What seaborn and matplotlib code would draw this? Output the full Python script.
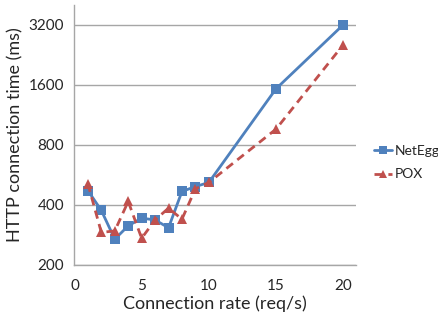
import numpy as np
import pandas as pd
import matplotlib
matplotlib.use("Agg")
import matplotlib.pyplot as plt
import seaborn as sns
from matplotlib.ticker import FixedLocator, FixedFormatter, NullLocator

rate = [1, 2, 3, 4, 5, 6, 7, 8, 9, 10, 15, 20]
netegg = [472, 375, 269, 314, 343, 336, 307, 467, 494, 518, 1528, 3200]
pox = [510, 291, 296, 416, 272, 336, 385, 339, 481, 518, 959, 2540]
yticks = [200, 400, 800, 1600, 3200]
xticks = [0, 5, 10, 15, 20]

df = pd.concat([
    pd.DataFrame({"rate": rate, "time": netegg, "system": "NetEgg"}),
    pd.DataFrame({"rate": rate, "time": pox, "system": "POX"}),
])

sns.set_theme(style="white")
plt.rcParams['font.family'] = ['Lato', 'DejaVu Sans']

fig = plt.figure(figsize=(4.38, 3.23), dpi=100)
ax = fig.add_axes([0.17, 0.18, 0.643, 0.805])

palette = {"NetEgg": "#4F81BD", "POX": "#C0504D"}
sns.lineplot(data=df, x="rate", y="time", hue="system", style="system",
             palette=palette, markers={"NetEgg": "s", "POX": "^"},
             dashes={"NetEgg": "", "POX": (3, 2)}, linewidth=2,
             markersize=7, markeredgewidth=0, ax=ax)

ax.set_yscale('log', base=2)
ax.set_ylim(200, 4030)
ax.set_xlim(0, 20.96)
ax.yaxis.set_major_locator(FixedLocator(yticks))
ax.yaxis.set_major_formatter(FixedFormatter([str(v) for v in yticks]))
ax.yaxis.set_minor_locator(NullLocator())
ax.set_xticks(xticks)
ax.set_xticklabels([str(v) for v in xticks])
ax.grid(axis='y', color='#a6a6a6', linewidth=1)
ax.grid(axis='x', visible=False)

for s in ['top', 'right']:
    ax.spines[s].set_visible(False)
for s in ['left', 'bottom']:
    ax.spines[s].set_color('#a6a6a6')
    ax.spines[s].set_linewidth(1)
ax.tick_params(axis='both', which='major', direction='out', length=4,
               color='#a6a6a6', labelsize=11, labelcolor='#262626', width=1)
ax.tick_params(axis='x', pad=6)

ax.set_xlabel("Connection rate (req/s)", fontsize=13, color='#262626', labelpad=2)
ax.set_ylabel("HTTP connection time (ms)", fontsize=13, color='#262626', labelpad=4)

leg = ax.legend(loc='center left', bbox_to_anchor=(0.853, 0.497),
                bbox_transform=fig.transFigure, frameon=False,
                fontsize=10, handlelength=1.3, handletextpad=0.2,
                labelspacing=0.85, borderaxespad=0, borderpad=0)
for t in leg.get_texts():
    t.set_color('#262626')
for h in leg.get_lines():
    h.set_markersize(6)

fig.savefig("out.png", dpi=100)
